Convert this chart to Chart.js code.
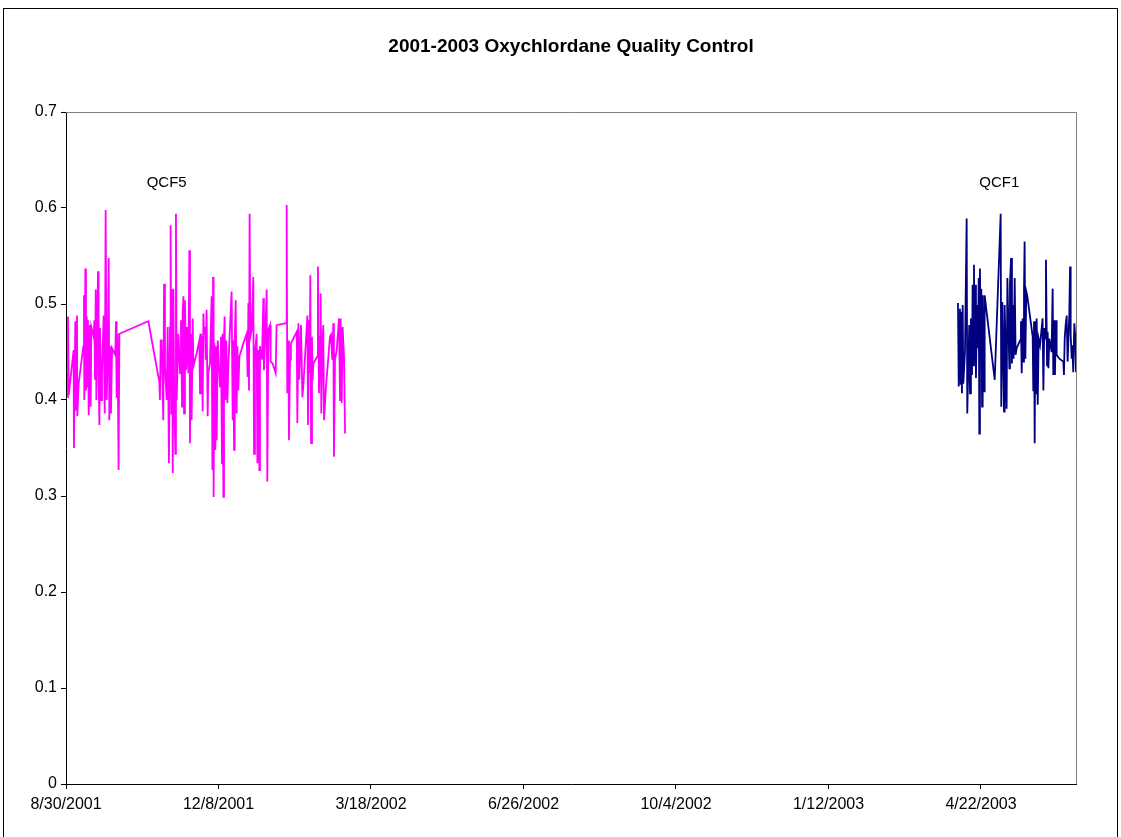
<!DOCTYPE html>
<html>
<head>
<meta charset="utf-8">
<script src="https://cdn.jsdelivr.net/npm/chart.js@4"></script>
<style>
html,body{margin:0;padding:0;background:#fff;}
#wrap{width:1121px;height:837px;position:relative;}
</style>
</head>
<body>
<div id="wrap"><canvas id="c" width="1121" height="837"></canvas></div>
<script>
// Elapsed days since 8/30/2001 for each QC measurement
const startDate = "8/30/2001";
const xTickDays = [0, 100, 200, 300, 400, 500, 600];
const xTickLabels = ["8/30/2001", "12/8/2001", "3/18/2002", "6/26/2002", "10/4/2002", "1/12/2003", "4/22/2003"];
const yTickValues = [0, 0.1, 0.2, 0.3, 0.4, 0.5, 0.6, 0.7];
const titleText = "2001-2003 Oxychlordane Quality Control";
const seriesNames = ["QCF5", "QCF1"];

const qcf5Days = [0.9,1.3,1.8,5.0,5.2,6.1,6.6,7.2,7.4,8.3,11.4,11.8,12.0,12.7,13.1,13.6,14.0,14.4,14.9,15.3,15.7,16.2,16.6,18.1,18.6,19.0,19.5,19.9,20.5,21.0,21.4,21.9,22.3,23.0,23.6,24.7,25.4,26.0,26.7,27.5,28.0,28.4,29.1,29.5,30.2,32.3,32.8,33.2,33.7,34.5,35.0,
54.0,61.2,61.6,62.1,62.7,63.8,64.3,64.9,66.0,66.7,67.5,68.2,68.6,69.1,69.5,70.0,70.4,71.0,71.7,72.1,72.6,73.7,74.8,75.4,76.1,76.5,77.0,77.4,78.0,78.7,79.4,80.2,80.9,81.3,81.8,82.4,83.1,83.5,85.7,87.4,87.9,88.5,89.2,89.6,90.1,
90.5,91.1,91.6,92.2,92.9,93.3,94.4,95.5,96.0,96.4,96.8,97.3,97.9,98.4,98.8,99.5,101.0,101.6,102.3,102.7,103.2,103.6,104.0,104.5,105.1,105.8,106.5,108.6,109.3,109.7,110.2,110.6,111.3,111.9,112.4,113.0,113.7,116.3,118.5,119.1,119.6,120.0,120.4,120.9,121.8,122.8,123.3,123.9,125.0,125.5,126.1,126.8,127.2,128.5,129.4,129.8,130.5,131.6,132.0,132.7,
133.8,134.2,135.5,137.5,138.1,144.3,144.7,145.1,145.8,146.2,146.9,147.5,151.3,151.7,152.4,153.0,154.1,155.0,155.6,158.3,158.7,159.4,159.8,160.2,160.7,161.3,161.7,162.2,164.6,165.2,165.9,166.6,167.0,167.4,168.1,168.7,169.2,170.5,173.1,173.8,174.6,175.3,175.7,176.4,177.5,179.0,179.7,180.1,180.8,181.4,182.3,183.0];
const qcf5Values = [0.403,0.487,0.405,0.452,0.350,0.482,0.390,0.488,0.383,0.417,0.456,0.509,0.400,0.537,0.410,0.487,0.414,0.483,0.384,0.452,0.478,0.393,0.476,0.466,0.483,0.421,0.515,0.400,0.483,0.534,0.421,0.374,0.475,0.400,0.428,0.488,0.386,0.598,0.400,0.456,0.548,0.379,0.456,0.386,0.454,0.447,0.482,0.402,0.469,0.327,0.469,
0.482,0.419,0.400,0.462,0.462,0.379,0.521,0.435,0.400,0.476,0.334,0.476,0.582,0.386,0.515,0.324,0.516,0.400,0.344,0.594,0.400,0.469,0.428,0.483,0.393,0.490,0.508,0.386,0.504,0.431,0.476,0.428,0.556,0.355,0.469,0.379,0.485,0.435,0.449,0.462,0.407,0.469,0.462,0.388,0.490,
0.473,0.476,0.442,0.494,0.383,0.428,0.438,0.508,0.327,0.528,0.299,0.459,0.348,0.456,0.358,0.462,0.414,0.466,0.334,0.469,0.299,0.462,0.487,0.400,0.462,0.397,0.438,0.513,0.379,0.462,0.348,0.459,0.504,0.386,0.456,0.410,0.445,0.459,0.469,0.424,0.501,0.410,0.594,0.466,0.473,0.528,0.344,0.449,0.469,0.334,0.452,0.327,0.456,0.442,0.506,0.431,0.459,0.515,0.315,0.473,
0.478,0.440,0.438,0.428,0.478,0.480,0.603,0.407,0.462,0.358,0.442,0.459,0.471,0.376,0.480,0.421,0.478,0.403,0.414,0.488,0.374,0.483,0.428,0.530,0.355,0.466,0.421,0.438,0.445,0.539,0.407,0.466,0.511,0.386,0.459,0.478,0.379,0.414,0.466,0.468,0.442,0.480,0.341,0.442,0.452,0.485,0.400,0.485,0.397,0.476,0.445,0.365];

const qcf1Days = [584.9,585.4,585.8,586.2,586.7,587.1,587.5,588.0,588.4,589.5,590.6,591.0,591.7,592.3,592.8,593.4,594.1,594.5,595.0,595.4,595.8,596.3,596.7,597.4,598.0,598.5,598.9,599.3,599.8,600.2,600.7,601.1,601.5,602.0,602.4,609.0,612.9,613.3,614.0,614.6,615.1,615.5,616.2,616.8,617.3,618.6,619.0,619.7,620.3,620.8,621.4,622.1,622.7,623.4,625.6,626.2,626.7,627.3,627.8,628.2,628.6,629.1,629.7,630.4,633.9,634.3,634.8,635.2,635.6,636.1,636.5,637.2,637.8,638.7,640.4,640.9,641.5,642.2,642.6,643.3,643.7,644.2,644.8,646.3,647.0,647.4,648.1,648.5,649.2,649.6,651.4,654.0,654.4,654.9,655.5,656.2,656.8,657.9,658.4,658.8,659.5,659.9,660.5,661.2,661.9,662.3];
const qcf1Values = [0.501,0.414,0.464,0.495,0.416,0.492,0.407,0.499,0.417,0.450,0.589,0.386,0.436,0.478,0.407,0.485,0.426,0.520,0.436,0.541,0.440,0.520,0.423,0.499,0.454,0.527,0.365,0.537,0.454,0.516,0.393,0.509,0.450,0.409,0.509,0.421,0.594,0.393,0.502,0.443,0.388,0.499,0.454,0.391,0.527,0.433,0.520,0.548,0.438,0.499,0.443,0.527,0.447,0.454,0.462,0.482,0.428,0.485,0.440,0.516,0.565,0.443,0.513,0.508,0.466,0.409,0.482,0.355,0.482,0.407,0.485,0.395,0.464,0.457,0.485,0.410,0.475,0.464,0.546,0.436,0.471,0.433,0.464,0.450,0.516,0.426,0.483,0.426,0.483,0.447,0.443,0.440,0.426,0.464,0.478,0.488,0.440,0.488,0.539,0.468,0.443,0.457,0.429,0.480,0.464,0.429];

// label anchor positions (days, value)
const labelDays = [66, 612];
const labelValues = [0.626, 0.626];
const xMaxDays = 662.3;

const FONT = "'Liberation Sans', Arial, sans-serif";

function toPoints(days, vals){ return days.map((d,i)=>({x:d, y:vals[i]})); }

const decor = {
  id:'decor',
  beforeDraw(chart){
    const ctx = chart.ctx;
    ctx.save();
    ctx.fillStyle = '#fff';
    ctx.fillRect(0,0,chart.width,chart.height);
    ctx.restore();
  },
  afterDraw(chart){
    const ctx = chart.ctx, a = chart.chartArea;
    const xs = chart.scales.x, ys = chart.scales.y;
    ctx.save();
    // outer frame
    ctx.strokeStyle = '#000'; ctx.lineWidth = 1;
    ctx.strokeRect(3.5, 8.5, 1114, 840);
    // plot area top & right border
    ctx.strokeStyle = '#808080';
    ctx.beginPath();
    ctx.moveTo(a.left, a.top+0.5); ctx.lineTo(a.right+0.5, a.top+0.5);
    ctx.lineTo(a.right+0.5, a.bottom);
    ctx.stroke();
    // title
    ctx.fillStyle = '#000';
    ctx.font = 'bold 19px ' + FONT;
    ctx.textAlign = 'center'; ctx.textBaseline = 'middle';
    ctx.fillText(titleText, 571, 47);
    // series labels
    ctx.font = '15px ' + FONT;
    seriesNames.forEach((n,i)=>{
      ctx.fillText(n, xs.getPixelForValue(labelDays[i]), ys.getPixelForValue(labelValues[i]));
    });
    ctx.restore();
  }
};

new Chart(document.getElementById('c'), {
  type:'line',
  data:{
    datasets:[
      {label:seriesNames[0], data:toPoints(qcf5Days, qcf5Values), borderColor:'#FF00FF', borderWidth:1.8, pointRadius:0, tension:0, fill:false},
      {label:seriesNames[1], data:toPoints(qcf1Days, qcf1Values), borderColor:'#000080', borderWidth:1.8, pointRadius:0, tension:0, fill:false}
    ]
  },
  options:{
    responsive:false, animation:false, devicePixelRatio:1,
    layout:{padding:{left:0, top:112, right:45, bottom:0}},
    plugins:{legend:{display:false}, title:{display:false}, tooltip:{enabled:false}},
    scales:{
      x:{
        type:'linear', min:0, max:xMaxDays,
        afterBuildTicks(s){ s.ticks = xTickDays.map(v=>({value:v})); },
        afterFit(s){ s.height = 53; },
        ticks:{autoSkip:false, maxRotation:0, padding:6, color:'#000', font:{family:FONT, size:16},
          callback(v, i){ return xTickLabels[i]; }},
        grid:{drawOnChartArea:false, color:'#000', tickLength:5, tickWidth:1},
        border:{color:'#000', width:1}
      },
      y:{
        type:'linear', min:0, max:0.7,
        afterBuildTicks(s){ s.ticks = yTickValues.map(v=>({value:v})); },
        afterFit(s){ s.width = 66; },
        ticks:{padding:4, color:'#000', font:{family:FONT, size:16},
          callback(v){ return String(Math.round(v*10)/10); }},
        grid:{drawOnChartArea:false, color:'#000', tickLength:5, tickWidth:1},
        border:{color:'#000', width:1}
      }
    }
  },
  plugins:[decor]
});
</script>
</body>
</html>
